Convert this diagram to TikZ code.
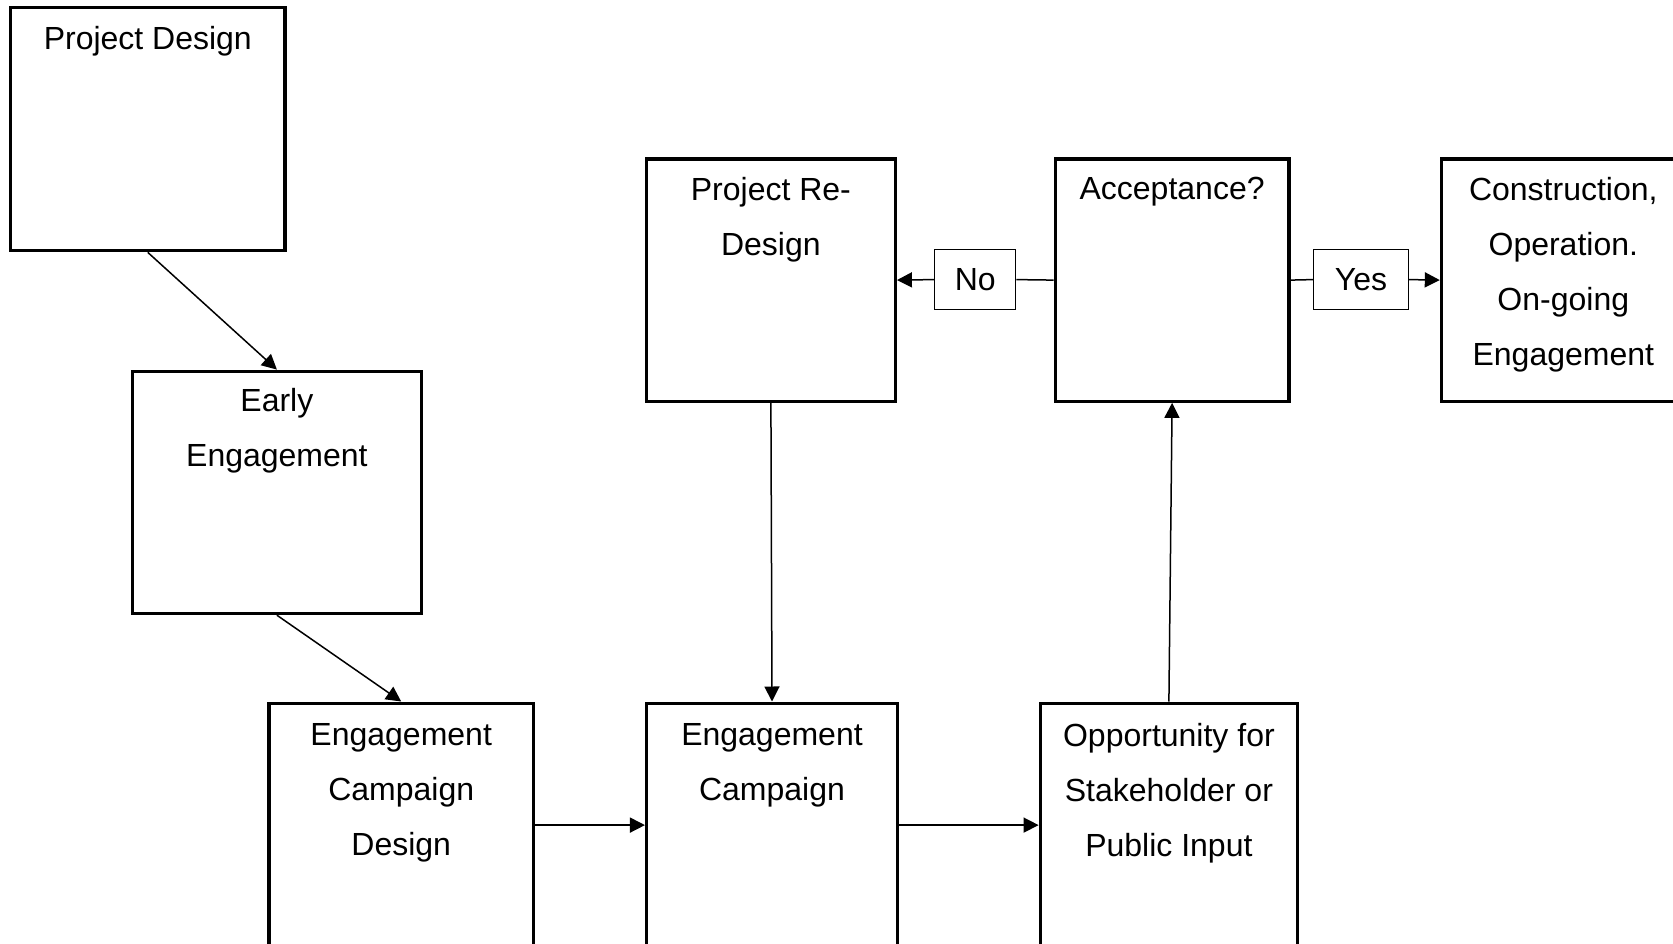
\documentclass[tikz,border=0pt]{standalone}
\usepackage{fontspec}
\setmainfont{Liberation Sans}
\usetikzlibrary{arrows.meta}
\begin{document}
\begin{tikzpicture}[x=1pt,y=-1pt,
  box/.style={draw,line width=3.4pt,rectangle,inner sep=0pt},
  tag/.style={draw,line width=1.4pt,rectangle,inner sep=0pt,font=\fontsize{32}{38}\selectfont},
  txt/.style={align=center,inner sep=0pt,anchor=north,font=\fontsize{32}{55}\selectfont},
  link/.style={line width=1.5pt},
  arr/.style={line width=1.5pt,-{Triangle[length=15pt,width=15pt]}}]
\clip (0,0) rectangle (1673,944);
% boxes
\node[box,minimum width=274.2pt,minimum height=243.2pt] (pd)  at (147.8,129.1) {};
\node[box,minimum width=289.2pt,minimum height=242.2pt] (ee)  at (276.9,492.4) {};
\node[box,minimum width=264.6pt,minimum height=243.8pt] (ecd) at (401.2,825.1) {};
\node[box,minimum width=250.7pt,minimum height=243.8pt] (ec)  at (772.0,825.1) {};
\node[box,minimum width=257.2pt,minimum height=243.8pt] (opp) at (1168.9,825.1) {};
\node[box,minimum width=248.6pt,minimum height=242.2pt] (prd) at (770.9,280.1) {};
\node[box,minimum width=233.6pt,minimum height=242.2pt] (acc) at (1172.1,280.1) {};
\node[box,minimum width=243.6pt,minimum height=242.2pt] (con) at (1563.3,280.1) {};
% box texts
\node[txt] (pdt)  at ([yshift=-20pt]pd.north)  {Project Design};
\node[txt] (eet)  at ([yshift=-19pt]ee.north)  {Early\\Engagement};
\node[txt] (ecdt) at ([yshift=-22pt]ecd.north) {Engagement\\Campaign\\Design};
\node[txt] (ect)  at ([yshift=-22pt]ec.north)  {Engagement\\Campaign};
\node[txt] (oppt) at ([yshift=-22pt]opp.north) {Opportunity for\\Stakeholder or\\Public Input};
\node[txt] (prdt) at ([yshift=-20pt]prd.north) {Project Re-\\Design};
\node[txt] (acct) at ([yshift=-20pt]acc.north) {Acceptance?};
\node[txt] (cont) at ([yshift=-20pt]con.north) {Construction,\\Operation.\\On-going\\Engagement};
% decision tags
\node[tag,minimum width=81pt,minimum height=59.7pt] (no)  at (975.2,279.6) {No};
\node[tag,minimum width=95pt,minimum height=59.7pt] (yes) at (1361,279.6) {Yes};
% connectors
\draw[arr] (pd.south) -- (ee.north);
\draw[arr] (ee.south) -- (ecd.north);
\draw[arr] (ecd.east) -- (ec.west);
\draw[arr] (ec.east) -- (opp.west);
\draw[arr] (opp.north) -- (acc.south);
\draw[arr] (prd.south) -- (ec.north);
\draw[link] (acc.west) -- (no.east);
\draw[arr] (no.west) -- (prd.east);
\draw[link] (acc.east) -- (yes.west);
\draw[arr] (yes.east) -- (con.west);
\end{tikzpicture}
\end{document}
